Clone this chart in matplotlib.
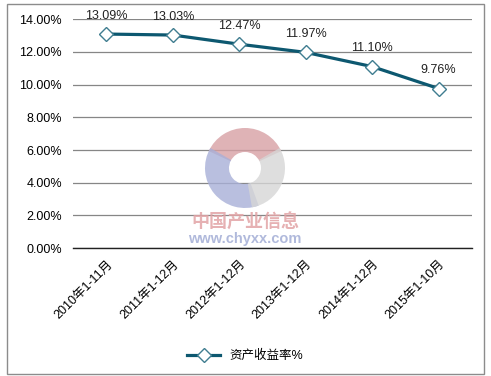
import matplotlib
matplotlib.use('Agg')
import matplotlib.pyplot as plt
from matplotlib.patches import Rectangle, Wedge

plt.rcParams['font.family'] = ['Liberation Sans', 'Noto Sans CJK SC', 'DejaVu Sans']

categories = ['2010年1-11月', '2011年1-12月', '2012年1-12月',
              '2013年1-12月', '2014年1-12月', '2015年1-10月']
roa = [13.09, 13.03, 12.47, 11.97, 11.10, 9.76]
series_name = '资产收益率%'

fig = plt.figure(figsize=(4.91, 3.76), dpi=100)
ax = fig.add_axes([0.149, 0.340, 0.812, 0.609])

# outer frame
fig.patches.append(Rectangle((7 / 491, 2 / 376), 477 / 491, 370 / 376,
                             transform=fig.transFigure, fill=False,
                             edgecolor='#8c8c8c', linewidth=1))

x = list(range(len(categories)))
ax.plot(x, roa, color='#0d5870', linewidth=2.3, marker='D', markersize=7,
        markerfacecolor='white', markeredgecolor='#3f7d90', markeredgewidth=1,
        label=series_name, zorder=3)

for xi, v in zip(x, roa):
    ax.annotate(f'{v:.2f}%', (xi, v), xytext=(0, 9), textcoords='offset points',
                ha='center', va='bottom', fontsize=9, color='#222222')

ax.set_xlim(-0.5, len(categories) - 0.5)
ax.set_ylim(0, 14)
ax.set_yticks([0, 2, 4, 6, 8, 10, 12, 14])
ax.set_yticklabels([f'{t:.2f}%' for t in ax.get_yticks()], fontsize=9)
ax.set_xticks(x)
ax.set_xticklabels(categories, rotation=45, ha='right', rotation_mode='anchor',
                   fontsize=9)
ax.tick_params(axis='y', length=0, pad=8)
ax.tick_params(axis='x', length=0, pad=7)

ax.grid(axis='y', color='#868686', linewidth=0.9)
ax.set_axisbelow(True)
for side in ['left', 'right', 'top']:
    ax.spines[side].set_visible(False)
ax.spines['bottom'].set_color('#222222')
ax.spines['bottom'].set_linewidth(1)

# watermark logo (inches from bottom-left)
cx, cy, r = 2.45, 2.08, 0.40
for t1, t2, c in [(25, 155, '#d7a0a4'), (150, 290, '#a8b0d8'), (280, 390, '#d6d6d6')]:
    fig.patches.append(Wedge((cx, cy), r, t1, t2, width=0.24,
                             transform=fig.dpi_scale_trans, facecolor=c,
                             alpha=0.8, edgecolor='none', zorder=5))
fig.text(0.499, 0.410, '中国产业信息', ha='center', va='center', fontsize=13,
         color='#e2a4a6', alpha=0.85, fontweight='bold', family=['Noto Sans CJK SC'])
fig.text(0.499, 0.365, 'www.chyxx.com', ha='center', va='center', fontsize=10.5,
         color='#a8b2d8', alpha=0.9, fontweight='bold')

ax.legend(loc='center', bbox_to_anchor=(0.5, 0.053), bbox_transform=fig.transFigure,
          frameon=False, fontsize=9, handlelength=2.6)

fig.savefig('out.png', dpi=100)
